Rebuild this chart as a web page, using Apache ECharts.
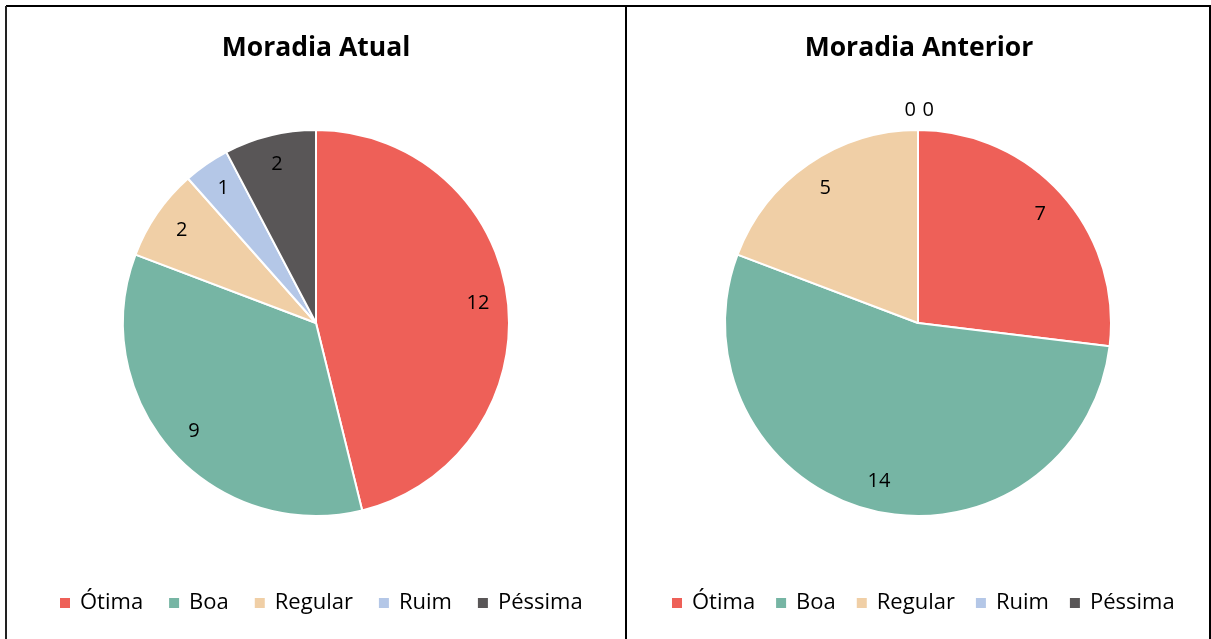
<!DOCTYPE html>
<html>
<head>
<meta charset="utf-8">
<script src="https://cdn.jsdelivr.net/npm/echarts@6/dist/echarts.min.js"></script>
<style>
  html, body { margin: 0; padding: 0; background: #fff; }
  #main { width: 1211px; height: 639px; }
</style>
</head>
<body>
<div id="main"></div>
<script>
var chartDom = document.getElementById('main');
var myChart = echarts.init(chartDom);
var option;

const categories = ['Ótima', 'Boa', 'Regular', 'Ruim', 'Péssima'];
const atual = [12, 9, 2, 1, 2];
const anterior = [7, 14, 5, 0, 0];
const titles = ['Moradia Atual', 'Moradia Anterior'];
const colors = ['#EE6058', '#76B5A4', '#F0CFA6', '#B4C7E7', '#595657'];

const font = '"Open Sans", Lato, sans-serif';
const centers = [[316, 323], [918, 323]];
const R = 193;

function pieData(values, withLabels) {
  let zeroCount = 0;
  return values.map(function (v, i) {
    const item = { name: categories[i], value: v };
    if (!withLabels) {
      item.itemStyle = { color: colors[i] };
    } else if (v === 0) {
      // zero slices sit on top of the pie, Excel puts their labels outside
      const k = zeroCount++;
      item.label = { position: 'outside', offset: [k === 0 ? 3 : 21, 0] };
      item.labelLine = { show: false, length: 20, length2: 0 };
    }
    return item;
  });
}

function mainPie(values, idx) {
  return {
    type: 'pie',
    center: centers[idx],
    radius: R,
    startAngle: 90,
    clockwise: true,
    avoidLabelOverlap: false,
    silent: true,
    label: { show: false },
    labelLine: { show: false },
    itemStyle: { borderColor: '#fff', borderWidth: 2 },
    data: pieData(values, false)
  };
}

// transparent ring only used to place labels at ~0.83 r like Excel
function labelPie(values, idx) {
  return {
    type: 'pie',
    center: centers[idx],
    radius: [R * 0.66, R],
    startAngle: 90,
    clockwise: true,
    avoidLabelOverlap: false,
    silent: true,
    legendHoverLink: false,
    itemStyle: { color: 'rgba(0,0,0,0)', borderWidth: 0 },
    label: {
      show: true,
      position: 'inside',
      formatter: '{c}',
      color: '#000',
      fontFamily: font,
      fontSize: 20
    },
    labelLine: { show: false },
    emphasis: { disabled: true },
    data: pieData(values, true)
  };
}

function legend(left, gap) {
  return {
    data: categories,
    left: left,
    top: 587,
    icon: 'rect',
    itemWidth: 12,
    itemHeight: 12,
    itemGap: gap,
    selectedMode: false,
    textStyle: { fontFamily: font, fontSize: 22, color: '#000', padding: [0, 0, 0, 4] }
  };
}

option = {
  animation: false,
  color: colors,
  title: [
    { text: titles[0], left: 311, top: 30, textAlign: 'center',
      textStyle: { fontFamily: font, fontSize: 26.5, fontWeight: 'bold', color: '#000' } },
    { text: titles[1], left: 914, top: 30, textAlign: 'center',
      textStyle: { fontFamily: font, fontSize: 26.5, fontWeight: 'bold', color: '#000' } }
  ],
  legend: [legend(53, 24), legend(665, 19)],
  graphic: [
    { type: 'line', shape: { x1: 6, y1: 6, x2: 1211, y2: 6 }, style: { stroke: '#000', lineWidth: 2 } },
    { type: 'line', shape: { x1: 6, y1: 6, x2: 6, y2: 639 }, style: { stroke: '#222', lineWidth: 2 } },
    { type: 'line', shape: { x1: 626, y1: 6, x2: 626, y2: 639 }, style: { stroke: '#000', lineWidth: 2 } },
    { type: 'line', shape: { x1: 1210, y1: 6, x2: 1210, y2: 639 }, style: { stroke: '#000', lineWidth: 2 } }
  ],
  series: [
    mainPie(atual, 0),
    mainPie(anterior, 1),
    labelPie(atual, 0),
    labelPie(anterior, 1)
  ]
};

option && myChart.setOption(option);
</script>
</body>
</html>
